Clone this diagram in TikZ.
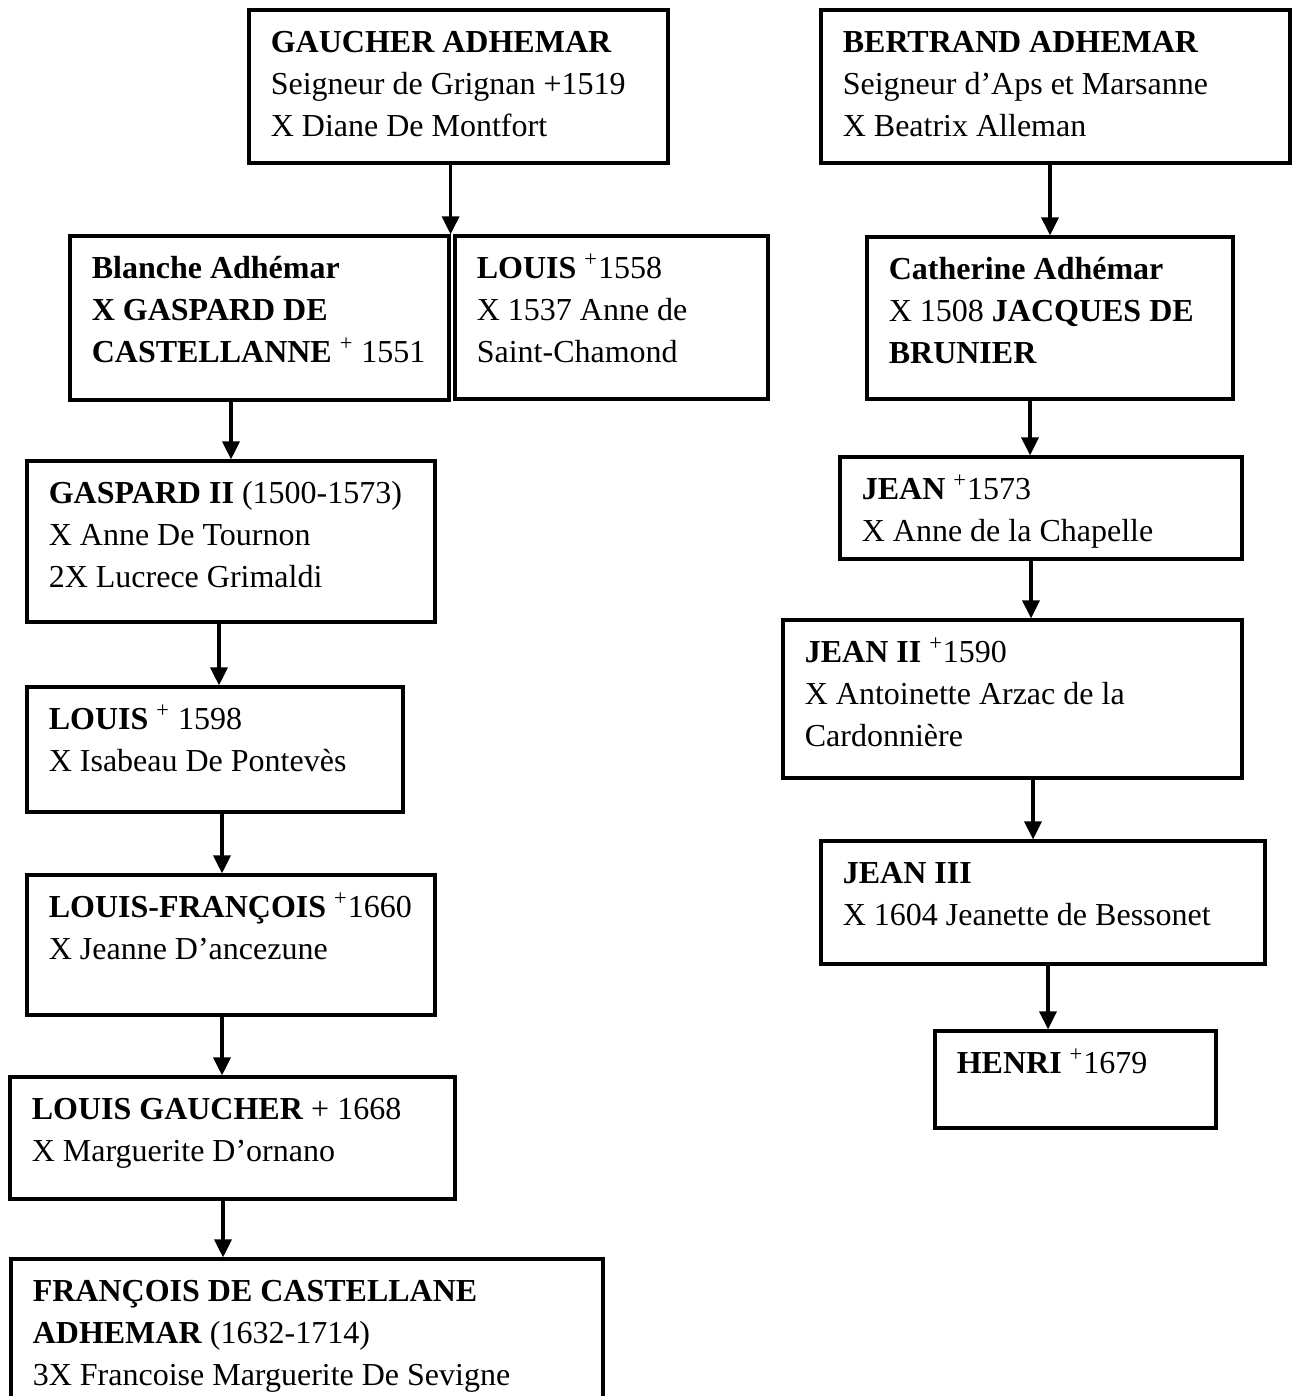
\documentclass[tikz,border=0pt]{standalone}
\usepackage{fontspec}
\setmainfont{Liberation Serif}
\usetikzlibrary{arrows.meta,calc}
\tikzset{
  famsbox/.style={draw, line width=1.6pt, rectangle, inner sep=0pt},
  famtxt/.style={anchor=north west, inner sep=0pt, align=left, font=\fontsize{16}{21}\selectfont},
  famarr/.style={line width=1.6pt, -{Triangle[width=8.5pt,length=9pt]}},
}
\newcommand\fambox[5]{%
  \node[famsbox, minimum width={(#4-#2)*0.5pt}, minimum height={(#5-#3)*0.5pt}] (#1) at ({(#2+#4)/2},{(#3+#5)/2}) {};}
\newcommand\famtext[2]{\node[famtxt] (#1-t) at ($(#1.north west)+(23,16)$) {\rule{0pt}{14pt}#2};}
\begin{document}
\begin{tikzpicture}[x=0.5pt,y=-0.5pt]
\useasboundingbox (0,0) rectangle (1298,1396);
\clip (0,0) rectangle (1298,1396);
% boxes
\fambox{gaucher}{249}{10}{668}{163}
\fambox{bertrand}{821}{10}{1290}{163}
\fambox{blanche}{70}{236}{449}{400}
\fambox{louisA}{455}{236}{768}{399}
\fambox{catherine}{867}{237}{1233}{399}
\fambox{gaspard}{27}{461}{435}{622}
\fambox{louisB}{27}{687}{403}{812}
\fambox{louisfr}{27}{875}{435}{1015}
\fambox{louisg}{10}{1077}{455}{1199}
\fambox{francois}{11}{1259}{603}{1440}
\fambox{jean}{840}{457}{1242}{559}
\fambox{jeanB}{783}{620}{1242}{778}
\fambox{jeanC}{821}{841}{1265}{964}
\fambox{henri}{935}{1031}{1216}{1128}
% texts
\famtext{gaucher}{\textbf{GAUCHER ADHEMAR}\\Seigneur de Grignan +1519\\X Diane De Montfort}
\famtext{bertrand}{\textbf{BERTRAND ADHEMAR}\\Seigneur d’Aps et Marsanne\\X Beatrix Alleman}
\famtext{blanche}{\textbf{Blanche Adhémar}\\\textbf{X GASPARD DE}\\\textbf{CASTELLANNE} \textsuperscript{+} 1551}
\famtext{louisA}{\textbf{LOUIS} \textsuperscript{+}1558\\X 1537 Anne de\\Saint-Chamond}
\famtext{catherine}{\textbf{Catherine Adhémar}\\X 1508 \textbf{JACQUES DE}\\\textbf{BRUNIER}}
\famtext{gaspard}{\textbf{GASPARD II} (1500-1573)\\X Anne De Tournon\\2X Lucrece Grimaldi}
\famtext{louisB}{\textbf{LOUIS} \textsuperscript{+} 1598\\X Isabeau De Pontevès}
\famtext{louisfr}{\textbf{LOUIS-FRANÇOIS} \textsuperscript{+}1660\\X Jeanne D’ancezune}
\famtext{louisg}{\textbf{LOUIS GAUCHER} + 1668\\X Marguerite D’ornano}
\famtext{francois}{\textbf{FRANÇOIS DE CASTELLANE}\\\textbf{ADHEMAR} (1632-1714)\\3X Francoise Marguerite De Sevigne}
\famtext{jean}{\textbf{JEAN} \textsuperscript{+}1573\\X Anne de la Chapelle}
\famtext{jeanB}{\textbf{JEAN II} \textsuperscript{+}1590\\X Antoinette Arzac de la\\Cardonnière}
\famtext{jeanC}{\textbf{JEAN III}\\X 1604 Jeanette de Bessonet}
\famtext{henri}{\textbf{HENRI} \textsuperscript{+}1679}
% connectors
\draw[famarr] (gaucher.south -| blanche.east) -- (blanche.north east);
\draw[famarr] (bertrand.south -| catherine.north) -- (catherine.north);
\draw[famarr] (blanche.south -| gaspard.north) -- (gaspard.north);
\draw[famarr] (gaspard.south -| 219,0) -- (louisB.north -| 219,0);
\draw[famarr] (louisB.south -| 222,0) -- (louisfr.north -| 222,0);
\draw[famarr] (louisfr.south -| 222,0) -- (louisg.north -| 222,0);
\draw[famarr] (louisg.south -| 223,0) -- (francois.north -| 223,0);
\draw[famarr] (catherine.south -| 1030,0) -- (jean.north -| 1030,0);
\draw[famarr] (jean.south -| 1031,0) -- (jeanB.north -| 1031,0);
\draw[famarr] (jeanB.south -| 1033,0) -- (jeanC.north -| 1033,0);
\draw[famarr] (jeanC.south -| 1048,0) -- (henri.north -| 1048,0);
\end{tikzpicture}
\end{document}
